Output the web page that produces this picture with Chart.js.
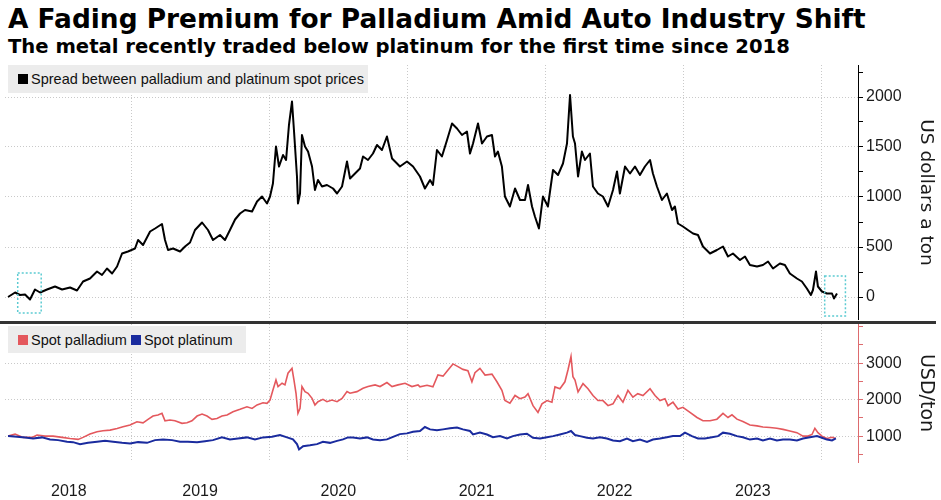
<!DOCTYPE html>
<html>
<head>
<meta charset="utf-8">
<script src="https://cdn.jsdelivr.net/npm/chart.js@4.4.0/dist/chart.umd.min.js"></script>
<style>
  body { margin: 0; background: #fff; width: 941px; height: 500px; position: relative; overflow: hidden; font-family: 'Liberation Sans', sans-serif; }
  .hd { position: absolute; left: 8px; font-family: 'DejaVu Sans', sans-serif; font-weight: bold; color: #000; white-space: nowrap; }
  #title { top: 4px; font-size: 26.4px; line-height: 30px; }
  #sub { top: 36px; font-size: 19.6px; line-height: 22px; }
  canvas { position: absolute; left: 0; }
  #topChart { top: 60px; }
  #botChart { top: 322px; }
  #sep { position: absolute; left: 0; top: 321px; width: 936px; height: 3px; background: #333; }
  .legend { position: absolute; left: 8px; background: #ececec; font-size: 14.5px; color: #111; display: flex; align-items: center; padding-left: 10px; box-sizing: border-box; white-space: nowrap; }
  .sw { display: inline-block; width: 10px; height: 10px; margin-right: 3px; }
</style>
</head>
<body>
<div id="title" class="hd">A Fading Premium for Palladium Amid Auto Industry Shift</div>
<div id="sub" class="hd">The metal recently traded below platinum for the first time since 2018</div>
<canvas id="topChart" width="941" height="260"></canvas>
<canvas id="botChart" width="941" height="178"></canvas>
<div id="sep"></div>
<div class="legend" style="top:65px;width:360px;height:28px"><span class="sw" style="background:#000"></span>Spread between palladium and platinum spot prices</div>
<div class="legend" style="top:326px;width:238px;height:27px"><span class="sw" style="background:#e4585d"></span>Spot palladium<span class="sw" style="background:#1a2b9e;margin-left:4px"></span>Spot platinum</div>

<script>
// ---- data (decimal years, USD) ----
var spreadYear = [2018.110, 2018.161, 2018.197, 2018.233, 2018.269, 2018.305, 2018.342, 2018.392, 2018.450, 2018.501,
  2018.559, 2018.609, 2018.653, 2018.703, 2018.754, 2018.790, 2018.826, 2018.863, 2018.899, 2018.935,
  2018.978, 2019.029, 2019.051, 2019.087, 2019.138, 2019.174, 2019.224, 2019.246, 2019.268, 2019.304,
  2019.355, 2019.391, 2019.427, 2019.463, 2019.514, 2019.557, 2019.593, 2019.644, 2019.680, 2019.716,
  2019.753, 2019.789, 2019.825, 2019.876, 2019.912, 2019.948, 2019.984, 2020.006, 2020.027, 2020.049,
  2020.071, 2020.100, 2020.122, 2020.143, 2020.165, 2020.179, 2020.201, 2020.208, 2020.223, 2020.237,
  2020.259, 2020.281, 2020.310, 2020.331, 2020.353, 2020.382, 2020.418, 2020.462, 2020.491, 2020.527,
  2020.563, 2020.585, 2020.621, 2020.657, 2020.679, 2020.715, 2020.751, 2020.780, 2020.816, 2020.852,
  2020.889, 2020.925, 2020.946, 2020.997, 2021.041, 2021.091, 2021.127, 2021.164, 2021.185, 2021.214,
  2021.250, 2021.287, 2021.323, 2021.359, 2021.395, 2021.431, 2021.453, 2021.475, 2021.511, 2021.540,
  2021.576, 2021.612, 2021.634, 2021.655, 2021.684, 2021.706, 2021.742, 2021.779, 2021.815, 2021.851,
  2021.873, 2021.902, 2021.923, 2021.952, 2021.981, 2022.017, 2022.054, 2022.090, 2022.126, 2022.155,
  2022.177, 2022.198, 2022.213, 2022.235, 2022.263, 2022.285, 2022.321, 2022.343, 2022.379, 2022.415,
  2022.452, 2022.488, 2022.517, 2022.538, 2022.575, 2022.611, 2022.647, 2022.683, 2022.719, 2022.756,
  2022.777, 2022.806, 2022.842, 2022.878, 2022.915, 2022.936, 2022.958, 2022.994, 2023.030, 2023.067,
  2023.103, 2023.139, 2023.190, 2023.240, 2023.284, 2023.320, 2023.356, 2023.407, 2023.443, 2023.479,
  2023.530, 2023.573, 2023.610, 2023.646, 2023.696, 2023.732, 2023.768, 2023.819, 2023.855, 2023.891,
  2023.920, 2023.935, 2023.957, 2023.971, 2024.000, 2024.036, 2024.073, 2024.087, 2024.109];
var spreadUsd = [0, 45, 20, 25, -25, 75, 45, 75, 105, 75,
  95, 65, 155, 185, 255, 220, 285, 235, 305, 435,
  455, 485, 570, 520, 655, 685, 730, 570, 470, 485,
  455, 505, 545, 670, 745, 670, 570, 620, 570, 670,
  775, 835, 870, 855, 955, 1005, 935, 1005, 1135, 1505,
  1305, 1420, 1370, 1720, 1955, 1670, 1205, 935, 1035, 1620,
  1505, 1455, 1305, 1070, 1170, 1105, 1120, 1085, 1035, 1105,
  1355, 1185, 1235, 1285, 1405, 1370, 1435, 1520, 1470, 1605,
  1385, 1335, 1305, 1355, 1305, 1205, 1085, 1170, 1120, 1470,
  1405, 1570, 1735, 1685, 1620, 1655, 1435, 1535, 1735, 1535,
  1605, 1620, 1405, 1455, 1305, 1005, 905, 1085, 970, 970,
  1120, 905, 805, 685, 1005, 905, 1270, 1220, 1335, 1535,
  2020, 1605, 1535, 1205, 1455, 1370, 1435, 1105, 1035, 1005,
  905, 1070, 1255, 1035, 1305, 1235, 1305, 1220, 1305, 1370,
  1235, 1105, 970, 1035, 870, 905, 735, 705, 670, 635,
  620, 505, 435, 470, 505, 405, 435, 370, 405, 320,
  305, 320, 355, 285, 335, 320, 235, 185, 155, 85,
  20, 70, 255, 105, 55, 35, 35, -15, 35];

var pdYear = [2018.110, 2018.161, 2018.219, 2018.284, 2018.320, 2018.378, 2018.436, 2018.501, 2018.559, 2018.617,
  2018.653, 2018.703, 2018.754, 2018.797, 2018.848, 2018.899, 2018.942, 2018.993, 2019.043, 2019.087,
  2019.123, 2019.159, 2019.195, 2019.224, 2019.246, 2019.282, 2019.318, 2019.369, 2019.405, 2019.441,
  2019.478, 2019.514, 2019.550, 2019.586, 2019.622, 2019.658, 2019.695, 2019.738, 2019.789, 2019.839,
  2019.876, 2019.912, 2019.955, 2019.984, 2020.006, 2020.027, 2020.049, 2020.064, 2020.093, 2020.114,
  2020.136, 2020.165, 2020.179, 2020.194, 2020.208, 2020.223, 2020.237, 2020.259, 2020.281, 2020.310,
  2020.331, 2020.353, 2020.389, 2020.418, 2020.454, 2020.491, 2020.527, 2020.563, 2020.585, 2020.635,
  2020.679, 2020.715, 2020.766, 2020.802, 2020.852, 2020.889, 2020.932, 2020.983, 2021.033, 2021.077,
  2021.091, 2021.142, 2021.185, 2021.221, 2021.258, 2021.294, 2021.330, 2021.366, 2021.402, 2021.438,
  2021.467, 2021.489, 2021.525, 2021.562, 2021.612, 2021.648, 2021.684, 2021.706, 2021.742, 2021.779,
  2021.815, 2021.851, 2021.873, 2021.909, 2021.945, 2021.974, 2022.010, 2022.046, 2022.068, 2022.104,
  2022.140, 2022.162, 2022.184, 2022.198, 2022.213, 2022.235, 2022.271, 2022.307, 2022.343, 2022.379,
  2022.415, 2022.452, 2022.488, 2022.524, 2022.560, 2022.596, 2022.632, 2022.667, 2022.705, 2022.756,
  2022.792, 2022.828, 2022.864, 2022.886, 2022.922, 2022.958, 2022.994, 2023.045, 2023.096, 2023.139,
  2023.190, 2023.240, 2023.284, 2023.320, 2023.349, 2023.385, 2023.428, 2023.479, 2023.530, 2023.573,
  2023.624, 2023.674, 2023.718, 2023.768, 2023.819, 2023.863, 2023.899, 2023.928, 2023.949, 2023.971,
  2024.000, 2024.036, 2024.073, 2024.101];
var pdUsd = [1000, 1055, 965, 965, 1030, 1000, 1000, 965, 935, 910,
  965, 1055, 1120, 1145, 1165, 1210, 1255, 1305, 1395, 1365,
  1460, 1550, 1580, 1625, 1420, 1440, 1420, 1350, 1365, 1420,
  1550, 1605, 1550, 1460, 1485, 1550, 1580, 1670, 1735, 1805,
  1760, 1855, 1915, 1900, 1990, 2265, 2540, 2360, 2450, 2405,
  2725, 2860, 2540, 2175, 1625, 1760, 2360, 2220, 2175, 2035,
  1855, 1945, 2010, 1945, 1990, 1945, 2035, 2220, 2175, 2220,
  2310, 2360, 2405, 2360, 2470, 2360, 2405, 2450, 2360, 2405,
  2350, 2395, 2350, 2675, 2645, 2815, 2980, 2905, 2830, 2795,
  2490, 2740, 2860, 2675, 2700, 2490, 2255, 1975, 1900, 2115,
  2025, 2070, 2165, 1835, 1650, 1885, 1975, 1930, 2350, 2300,
  2490, 2815, 3185, 2630, 2535, 2210, 2440, 2300, 2115, 1975,
  1975, 1835, 1885, 2115, 1930, 2255, 2070, 2165, 2115, 2300,
  2115, 1975, 2025, 1835, 1930, 1745, 1790, 1650, 1510, 1420,
  1420, 1465, 1625, 1510, 1585, 1465, 1400, 1305, 1280, 1250,
  1235, 1215, 1185, 1140, 1095, 1000, 1000, 1045, 1215, 1095,
  1000, 935, 970, 935];

var ptYear = [2018.110, 2018.175, 2018.233, 2018.291, 2018.356, 2018.414, 2018.472, 2018.537, 2018.580, 2018.631,
  2018.689, 2018.754, 2018.812, 2018.870, 2018.935, 2018.993, 2019.051, 2019.116, 2019.174, 2019.232,
  2019.297, 2019.355, 2019.412, 2019.478, 2019.535, 2019.593, 2019.658, 2019.716, 2019.774, 2019.839,
  2019.897, 2019.955, 2020.020, 2020.078, 2020.129, 2020.172, 2020.201, 2020.216, 2020.245, 2020.295,
  2020.346, 2020.389, 2020.440, 2020.491, 2020.534, 2020.570, 2020.606, 2020.657, 2020.708, 2020.751,
  2020.802, 2020.852, 2020.896, 2020.946, 2020.997, 2021.041, 2021.091, 2021.127, 2021.164, 2021.214,
  2021.258, 2021.308, 2021.359, 2021.402, 2021.453, 2021.475, 2021.525, 2021.576, 2021.619, 2021.670,
  2021.721, 2021.764, 2021.815, 2021.865, 2021.909, 2021.960, 2022.010, 2022.054, 2022.104, 2022.155,
  2022.184, 2022.213, 2022.249, 2022.300, 2022.343, 2022.394, 2022.444, 2022.488, 2022.538, 2022.589,
  2022.632, 2022.683, 2022.734, 2022.777, 2022.828, 2022.878, 2022.922, 2022.973, 2023.009, 2023.059,
  2023.103, 2023.153, 2023.204, 2023.248, 2023.284, 2023.334, 2023.385, 2023.428, 2023.479, 2023.530,
  2023.573, 2023.624, 2023.674, 2023.718, 2023.768, 2023.819, 2023.863, 2023.913, 2023.964, 2024.000,
  2024.036, 2024.073, 2024.101];
var ptUsd = [1000, 980, 965, 935, 965, 910, 890, 845, 835, 780,
  815, 845, 870, 845, 815, 800, 835, 815, 890, 910,
  890, 845, 845, 835, 860, 890, 965, 910, 935, 965,
  910, 965, 980, 1030, 965, 910, 780, 635, 725, 750,
  780, 845, 815, 870, 910, 965, 965, 935, 965, 910,
  890, 910, 980, 1055, 1075, 1120, 1140, 1250, 1185, 1160,
  1185, 1215, 1235, 1185, 1140, 1045, 1095, 1045, 970, 1000,
  935, 1000, 1045, 1065, 955, 935, 970, 1000, 1045, 1095,
  1140, 1030, 1000, 955, 935, 970, 935, 880, 860, 935,
  860, 905, 840, 905, 935, 970, 1000, 1000, 1095, 1000,
  935, 935, 970, 1000, 1095, 1065, 1000, 970, 905, 935,
  880, 935, 880, 905, 905, 880, 935, 970, 1000, 955,
  905, 880, 935];

var gridYears = [2019, 2020, 2021, 2022, 2023, 2024];
var yearLabelAt = [2018.55, 2019.5, 2020.5, 2021.5, 2022.5, 2023.5];
var yearLabels = ['2018', '2019', '2020', '2021', '2022', '2023'];
var spreadTicks = [0, 250, 500, 750, 1000, 1250, 1500, 1750, 2000, 2250];
var priceTicks = [500, 1000, 1500, 2000, 2500, 3000, 3500, 4000];
var priceLabels = [1000, 2000, 3000];
// dotted highlight boxes [x from, x to, y top, y bottom]
var highlightBoxes = [[2018.18, 2018.35, 240, -160], [2024.02, 2024.17, 210, -190]];

var xMin = 2018.088, xMax = 2024.261;
var gridGray = '#c9c9c9';

Chart.defaults.font.family = "'Liberation Sans', sans-serif";
Chart.defaults.color = '#1a1a1a';

function pts(xs, ys) {
    return xs.map(function(x, i) { return { x: x, y: ys[i] }; });
}

// right axis: fixed width, no extra room for half tick labels
function fitRightAxis(s) {
    s.width = 83;
    s.paddingTop = 0;
    s.paddingBottom = 0;
}

var boxPlugin = {
    id: 'boxPlugin',
    afterDatasetsDraw: function(chart) {
        var ctx = chart.ctx, sx = chart.scales.x, sy = chart.scales.y;
        ctx.save();
        ctx.strokeStyle = '#5ccbd2';
        ctx.lineWidth = 1.5;
        ctx.setLineDash([2, 2]);
        highlightBoxes.forEach(function(b) {
            var x1 = sx.getPixelForValue(b[0]), x2 = sx.getPixelForValue(b[1]);
            var y1 = sy.getPixelForValue(b[2]), y2 = sy.getPixelForValue(b[3]);
            ctx.strokeRect(x1, y1, x2 - x1, y2 - y1);
        });
        ctx.restore();
    }
};

// ---- top panel: spread ----
new Chart(document.getElementById('topChart'), {
    type: 'line',
    data: {
        datasets: [{
            data: pts(spreadYear, spreadUsd),
            borderColor: '#000',
            borderWidth: 2,
            pointRadius: 0,
            borderJoinStyle: 'round'
        }]
    },
    options: {
        responsive: false,
        animation: false,
        layout: { padding: { left: 5, top: 5, right: 0, bottom: 0 } },
        plugins: { legend: { display: false }, tooltip: { enabled: false } },
        scales: {
            x: {
                type: 'linear', min: xMin, max: xMax,
                afterBuildTicks: function(s) { s.ticks = gridYears.map(function(v) { return { value: v }; }); },
                afterFit: function(s) { s.height = 0; s.paddingLeft = 0; s.paddingRight = 0; },
                ticks: { display: false },
                grid: { color: gridGray, drawTicks: false },
                border: { display: false, dash: [1, 2] }
            },
            y: {
                position: 'right', min: -230, max: 2320,
                afterBuildTicks: function(s) { s.ticks = spreadTicks.map(function(v) { return { value: v }; }); },
                afterFit: fitRightAxis,
                ticks: {
                    autoSkip: false, padding: 3, font: { size: 16 },
                    callback: function(v) { return v % 500 === 0 ? String(v) : ''; }
                },
                grid: {
                    color: function(c) { return c.tick && c.tick.value % 500 === 0 ? gridGray : 'rgba(0,0,0,0)'; },
                    tickColor: '#000', tickLength: 5, tickBorderDash: []
                },
                border: { display: true, color: '#000', width: 1, dash: [1, 2] },
                title: { display: true, text: 'US dollars a ton', color: '#1a1a1a', font: { family: "'DejaVu Sans', sans-serif", size: 18.5 } }
            }
        }
    },
    plugins: [boxPlugin]
});

// ---- bottom panel: spot prices ----
new Chart(document.getElementById('botChart'), {
    type: 'line',
    data: {
        datasets: [{
            label: 'Spot palladium',
            data: pts(pdYear, pdUsd),
            borderColor: '#e4585d',
            borderWidth: 1.6,
            pointRadius: 0,
            order: 2
        }, {
            label: 'Spot platinum',
            data: pts(ptYear, ptUsd),
            borderColor: '#1a2b9e',
            borderWidth: 2,
            pointRadius: 0,
            order: 1
        }]
    },
    options: {
        responsive: false,
        animation: false,
        layout: { padding: { left: 5, top: 2, right: 0, bottom: 0 } },
        plugins: { legend: { display: false }, tooltip: { enabled: false } },
        scales: {
            x: {
                type: 'linear', min: xMin, max: xMax,
                afterBuildTicks: function(s) {
                    s.ticks = gridYears.concat(yearLabelAt).sort(function(a, b) { return a - b; })
                        .map(function(v) { return { value: v }; });
                },
                afterFit: function(s) { s.height = 38; s.paddingLeft = 0; s.paddingRight = 0; },
                ticks: {
                    autoSkip: false, maxRotation: 0, padding: 20, font: { size: 16 },
                    callback: function(v) { var i = yearLabelAt.indexOf(v); return i >= 0 ? yearLabels[i] : ''; }
                },
                grid: {
                    color: function(c) { return c.tick && Number.isInteger(c.tick.value) ? gridGray : 'rgba(0,0,0,0)'; },
                    drawTicks: false
                },
                border: { display: false, dash: [1, 2] }
            },
            y: {
                position: 'right', min: 290, max: 4075,
                afterBuildTicks: function(s) { s.ticks = priceTicks.map(function(v) { return { value: v }; }); },
                afterFit: fitRightAxis,
                ticks: {
                    autoSkip: false, padding: 3, font: { size: 16 },
                    callback: function(v) { return priceLabels.indexOf(v) >= 0 ? String(v) : ''; }
                },
                grid: {
                    color: function(c) { return c.tick && priceLabels.indexOf(c.tick.value) >= 0 ? gridGray : 'rgba(0,0,0,0)'; },
                    tickColor: '#dd6b6e', tickLength: 5, tickBorderDash: []
                },
                border: { display: true, color: '#dd6b6e', width: 1, dash: [1, 2] },
                title: { display: true, text: 'USD/ton', color: '#1a1a1a', font: { family: "'DejaVu Sans', sans-serif", size: 19 } }
            }
        }
    }
});
</script>
</body>
</html>
